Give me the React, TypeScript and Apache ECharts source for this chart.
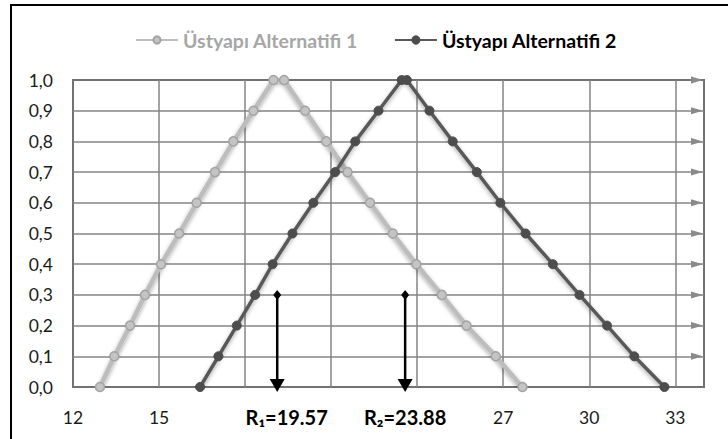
import React, { useEffect, useRef } from "react";
import * as echarts from "echarts";

const seriesNames = ["Üstyapı Alternatifi 1", "Üstyapı Alternatifi 2"];

const alt1X = [12.94, 13.44, 13.99, 14.51, 15.07, 15.7, 16.31, 16.95, 17.59, 18.29, 18.99, 19.36, 20.09, 20.83, 21.57, 22.36, 23.15, 23.97, 24.86, 25.72, 26.74, 27.67];
const alt1Y = [0, 0.1, 0.2, 0.3, 0.4, 0.5, 0.6, 0.7, 0.8, 0.9, 1.0, 1.0, 0.9, 0.8, 0.7, 0.6, 0.5, 0.4, 0.3, 0.2, 0.1, 0];

const alt2X = [16.43, 17.07, 17.71, 18.35, 18.96, 19.65, 20.38, 21.14, 21.84, 22.65, 23.46, 23.64, 24.43, 25.24, 26.08, 26.9, 27.78, 28.73, 29.66, 30.62, 31.57, 32.62];
const alt2Y = [0, 0.1, 0.2, 0.3, 0.4, 0.5, 0.6, 0.7, 0.8, 0.9, 1.0, 1.0, 0.9, 0.8, 0.7, 0.6, 0.5, 0.4, 0.3, 0.2, 0.1, 0];

const rLabels = ["R\u2081=19.57", "R\u2082=23.88"];
const rArrowX = [19.12, 23.58];
const rTopY = [0.3, 0.3];
const rLabelX = [19.45, 23.58];

const hiddenXLabels = [18, 21, 24, 34];
const gridArrowY = [0.1, 0.2, 0.3, 0.4, 0.5, 0.6, 0.7, 0.8, 0.9, 1.0];

const X_MIN = 12;
const X_MAX = 34;
const FONT = "Lato, 'Open Sans', sans-serif";

export default function App() {
  const ref = useRef<HTMLDivElement>(null);

  useEffect(() => {
    if (!ref.current) return;
    const chart = echarts.init(ref.current, undefined, { renderer: "svg" });

    const data1 = alt1X.map((x, i) => [x, alt1Y[i]]);
    const data2 = alt2X.map((x, i) => [x, alt2Y[i]]);
    const rData = rArrowX.map((x, i) => [x, rTopY[i], rLabelX[i], i]);
    const arrowData = gridArrowY.map((y) => [X_MAX, y]);

    const shadow = {
      shadowColor: "rgba(0,0,0,0.35)",
      shadowBlur: 4,
      shadowOffsetY: 2,
    };

    chart.setOption({
      animation: false,
      backgroundColor: "#ffffff",
      textStyle: { fontFamily: FONT },
      graphic: [
        {
          type: "rect",
          shape: { x: 11, y: 5, width: 800, height: 500 },
          style: { fill: "none", stroke: "#000", lineWidth: 2 },
          silent: true,
        },
      ],
      legend: {
        top: 25,
        left: 130,
        itemWidth: 42,
        itemHeight: 9,
        itemGap: 36,
        textStyle: { fontFamily: FONT, fontSize: 19.5, fontWeight: "bold" },
        data: [
          { name: seriesNames[0], textStyle: { color: "#a6a6a6" } },
          { name: seriesNames[1], textStyle: { color: "#000000" } },
        ],
      },
      grid: {
        left: 73,
        right: 24,
        top: 80,
        bottom: 52,
        show: true,
        borderColor: "#000",
        borderWidth: 1.5,
        backgroundColor: "transparent",
      },
      xAxis: {
        type: "value",
        min: X_MIN,
        max: X_MAX,
        interval: 3,
        axisLine: { show: false },
        axisTick: { show: false },
        splitLine: { show: true, lineStyle: { color: "#858585", width: 1.5 } },
        axisLabel: {
          margin: 21,
          fontSize: 17.5,
          color: "#1a1a1a",
          fontFamily: FONT,
          showMaxLabel: false,
          formatter: (v: number) => (hiddenXLabels.includes(v) ? "" : String(v)),
        },
      },
      yAxis: {
        type: "value",
        min: 0,
        max: 1,
        interval: 0.1,
        axisLine: { show: false },
        axisTick: { show: false },
        splitLine: { show: true, lineStyle: { color: "#858585", width: 1.5 } },
        axisLabel: {
          margin: 20,
          fontSize: 17.5,
          color: "#1a1a1a",
          fontFamily: FONT,
          formatter: (v: number) => v.toFixed(1).replace(".", ","),
        },
      },
      series: [
        {
          name: "gridArrows",
          type: "custom",
          data: arrowData,
          encode: { x: 0, y: 1 },
          clip: false,
          silent: true,
          z: 1,
          renderItem: (params: any, api: any) => {
            const p = api.coord([api.value(0), api.value(1)]);
            return {
              type: "polygon",
              shape: {
                points: [
                  [p[0] - 1, p[1]],
                  [p[0] - 13, p[1] - 3.5],
                  [p[0] - 13, p[1] + 3.5],
                ],
              },
              style: { fill: "#8a8a8a" },
            };
          },
        },
        {
          name: seriesNames[0],
          type: "line",
          data: data1,
          symbol: "circle",
          symbolSize: 9,
          z: 3,
          lineStyle: { color: "#bdbdbd", width: 4.5, ...shadow },
          itemStyle: { color: "#c4c4c4", borderColor: "#a3a3a3", borderWidth: 1.5 },
        },
        {
          name: seriesNames[1],
          type: "line",
          data: data2,
          symbol: "circle",
          symbolSize: 9,
          z: 4,
          lineStyle: { color: "#595959", width: 3.5, ...shadow },
          itemStyle: { color: "#4d4d4d", borderColor: "#4d4d4d", borderWidth: 1 },
        },
        {
          name: "R",
          type: "custom",
          data: rData,
          encode: { x: 0, y: 1 },
          clip: false,
          silent: true,
          z: 5,
          renderItem: (params: any, api: any) => {
            const x = api.value(0);
            const top = api.coord([x, api.value(1)]);
            const base = api.coord([x, 0]);
            const lab = api.coord([api.value(2), 0]);
            const idx = api.value(3);
            const tipY = base[1] + 5;
            const headH = 13;
            const headW = 7.5;
            return {
              type: "group",
              children: [
                {
                  type: "line",
                  shape: { x1: top[0], y1: top[1], x2: top[0], y2: tipY - headH + 1 },
                  style: { stroke: "#000", lineWidth: 2.5 },
                },
                {
                  type: "polygon",
                  shape: {
                    points: [
                      [top[0], top[1] - 5],
                      [top[0] + 4, top[1]],
                      [top[0], top[1] + 5],
                      [top[0] - 4, top[1]],
                    ],
                  },
                  style: { fill: "#000" },
                },
                {
                  type: "polygon",
                  shape: {
                    points: [
                      [top[0], tipY],
                      [top[0] - headW, tipY - headH],
                      [top[0] + headW, tipY - headH],
                    ],
                  },
                  style: { fill: "#000" },
                },
                {
                  type: "text",
                  style: {
                    text: rLabels[idx],
                    x: lab[0],
                    y: base[1] + 30,
                    align: "center",
                    verticalAlign: "middle",
                    font: `bold 20px ${FONT}`,
                    fill: "#000",
                  },
                },
              ],
            };
          },
        },
      ],
    });

    return () => chart.dispose();
  }, []);

  return (
    <div
      ref={ref}
      style={{ position: "fixed", left: 0, top: 0, width: 728, height: 439 }}
    />
  );
}
